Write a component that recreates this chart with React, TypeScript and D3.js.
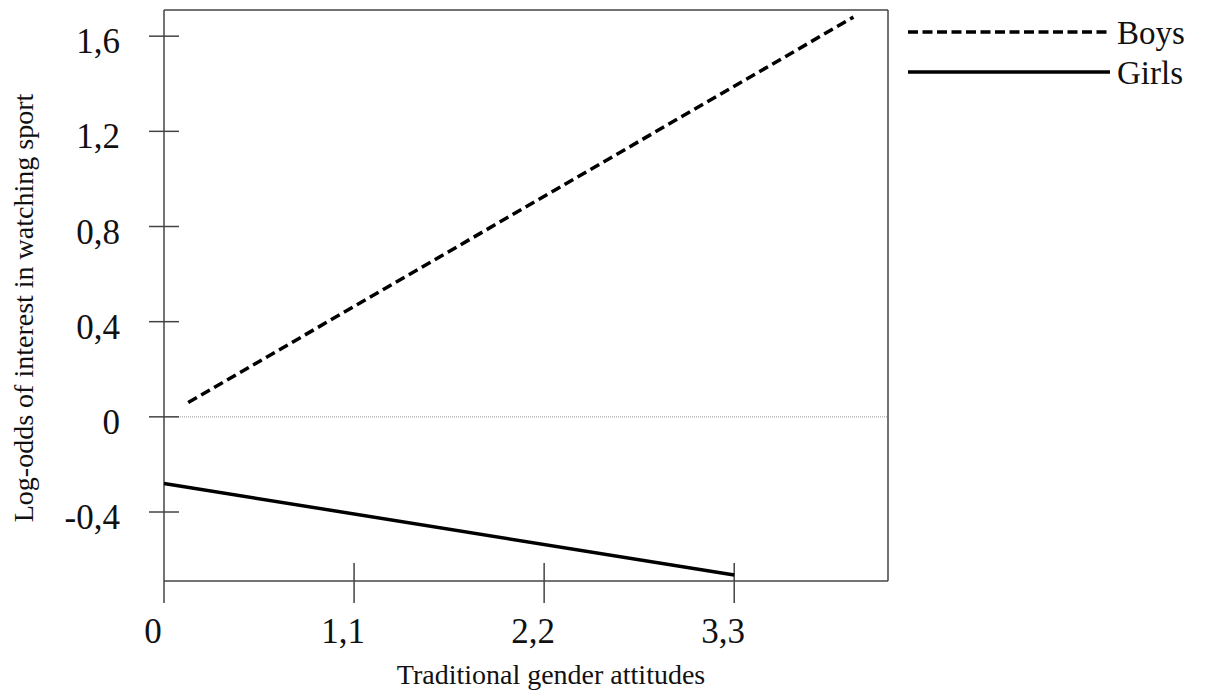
import React, { useEffect, useRef } from 'react';
import * as d3 from 'd3';

const xTicks = [0, 1.1, 2.2, 3.3];
const xTickLabels = ['0', '1,1', '2,2', '3,3'];
const yTicks = [-0.4, 0, 0.4, 0.8, 1.2, 1.6];
const yTickLabels = ['-0,4', '0', '0,4', '0,8', '1,2', '1,6'];

const boysX = [0.14, 3.99];
const boysY = [0.06, 1.68];
const girlsX = [0, 3.3];
const girlsY = [-0.28, -0.665];

const seriesNames = ['Boys', 'Girls'];

const W = 1209;
const H = 695;
const FONT = '"Liberation Serif", "Times New Roman", serif';

const App = () => {
  const ref = useRef(null);

  useEffect(() => {
    const svg = d3.select(ref.current);
    svg.selectAll('*').remove();

    const left = 164, right = 888, top = 10, bottom = 581;
    const x = d3.scaleLinear().domain([0, 4.19]).range([left, right]);
    const y = d3.scaleLinear().domain([-0.69, 1.71]).range([bottom, top]);
    const axisColor = '#444';

    // zero reference line
    svg.append('line')
      .attr('x1', left).attr('x2', right)
      .attr('y1', y(0)).attr('y2', y(0))
      .attr('stroke', '#999').attr('stroke-width', 1)
      .attr('stroke-dasharray', '1,1');

    // frame
    svg.append('line').attr('x1', left).attr('x2', right).attr('y1', top).attr('y2', top)
      .attr('stroke', axisColor).attr('stroke-width', 1.5);
    svg.append('line').attr('x1', right).attr('x2', right).attr('y1', top).attr('y2', bottom)
      .attr('stroke', axisColor).attr('stroke-width', 1.5);
    svg.append('line').attr('x1', left).attr('x2', right).attr('y1', bottom).attr('y2', bottom)
      .attr('stroke', axisColor).attr('stroke-width', 1.5);
    svg.append('line').attr('x1', left).attr('x2', left).attr('y1', top).attr('y2', bottom + 22)
      .attr('stroke', axisColor).attr('stroke-width', 1.5);

    // y ticks
    const yg = svg.append('g');
    yTicks.forEach((t, i) => {
      yg.append('line')
        .attr('x1', left - 15).attr('x2', left + 15)
        .attr('y1', y(t)).attr('y2', y(t))
        .attr('stroke', axisColor).attr('stroke-width', 1.5);
      yg.append('text')
        .attr('x', 120).attr('y', y(t) + 17)
        .attr('text-anchor', 'end')
        .attr('font-family', FONT).attr('font-size', 35)
        .attr('fill', '#111')
        .text(yTickLabels[i]);
    });

    // x ticks
    const xg = svg.append('g');
    xTicks.forEach((t, i) => {
      if (t > 0) {
        xg.append('line')
          .attr('x1', x(t)).attr('x2', x(t))
          .attr('y1', bottom - 18).attr('y2', bottom + 22)
          .attr('stroke', axisColor).attr('stroke-width', 1.5);
      }
      xg.append('text')
        .attr('x', x(t) - 11).attr('y', 643)
        .attr('text-anchor', 'middle')
        .attr('font-family', FONT).attr('font-size', 35)
        .attr('fill', '#111')
        .text(xTickLabels[i]);
    });

    // axis titles
    svg.append('text')
      .attr('x', 551).attr('y', 684)
      .attr('text-anchor', 'middle')
      .attr('font-family', FONT).attr('font-size', 28)
      .attr('fill', '#111')
      .text('Traditional gender attitudes');

    svg.append('text')
      .attr('transform', `translate(33, 308) rotate(-90)`)
      .attr('text-anchor', 'middle')
      .attr('font-family', FONT).attr('font-size', 28)
      .attr('fill', '#111')
      .text('Log-odds of interest in watching sport');

    // lines
    const line = d3.line().x((d) => x(d[0])).y((d) => y(d[1]));
    svg.append('path')
      .attr('d', line(d3.zip(boysX, boysY)))
      .attr('fill', 'none').attr('stroke', '#000').attr('stroke-width', 3.5)
      .attr('stroke-dasharray', '10,5');
    svg.append('path')
      .attr('d', line(d3.zip(girlsX, girlsY)))
      .attr('fill', 'none').attr('stroke', '#000').attr('stroke-width', 3.5);

    // legend
    const lg = svg.append('g');
    seriesNames.forEach((name, i) => {
      const ly = 32 + i * 40;
      lg.append('line')
        .attr('x1', 908).attr('x2', 1110)
        .attr('y1', ly).attr('y2', ly)
        .attr('stroke', '#000').attr('stroke-width', 3.5)
        .attr('stroke-dasharray', i === 0 ? '10,4.5' : null);
      lg.append('text')
        .attr('x', 1117).attr('y', ly + 12)
        .attr('font-family', FONT).attr('font-size', 33)
        .attr('fill', '#111')
        .text(name);
    });
  }, []);

  return (
    <svg
      ref={ref}
      width={W}
      height={H}
      style={{ position: 'absolute', left: 0, top: 0, background: '#fff' }}
    ></svg>
  );
};

export default App;
